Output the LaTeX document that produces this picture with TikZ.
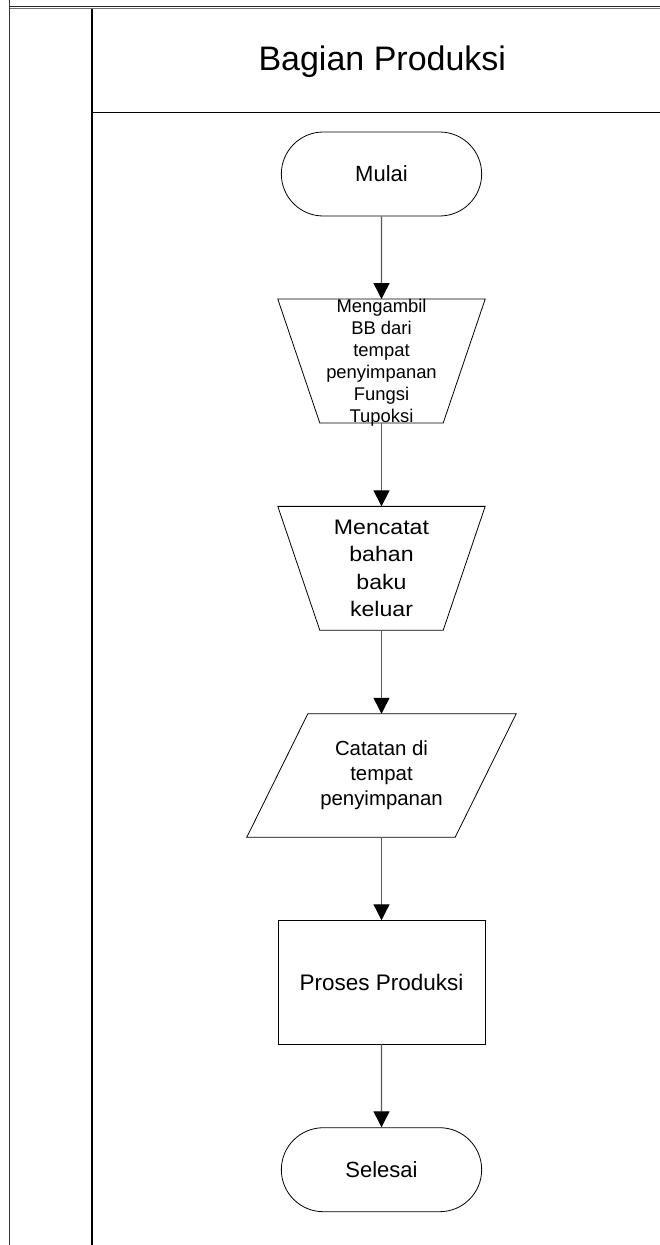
\documentclass[tikz,border=0pt]{standalone}
\usepackage{fontspec}
\setmainfont{Liberation Sans}
\newfontfamily\agaklebar{Liberation Sans}[FakeStretch=1.1]
\usetikzlibrary{shapes.misc,arrows.meta}

\begin{document}
\begin{tikzpicture}[x=1pt,y=-1pt]
    % Define style for flowchart shapes
    \tikzstyle{terminal} = [draw, rounded rectangle, line width=.8pt, minimum width=207pt, minimum height=84pt, font=\fontsize{22}{26}\selectfont]
    \tikzstyle{manual} = [rectangle, minimum width=207pt, minimum height=123.5pt, inner sep=0pt, align=center]
    \tikzstyle{dataio} = [rectangle, minimum width=269pt, minimum height=123pt, inner sep=0pt, align=center]
    \tikzstyle{kotak} = [draw, rectangle, line width=.8pt, minimum width=207pt, minimum height=123.3pt, font=\fontsize{22.5}{26}\selectfont]
    \tikzstyle{garis} = [line width=.8pt, line join=miter]
    \tikzstyle{panah} = [-{Triangle[width=16pt,length=16pt,black]}, draw=black!65, line width=1.2pt]

    \useasboundingbox (0,0) rectangle (660,1245);

    % Draw the swimlane
    \draw[black!80, line width=1.5pt] (9.7,0) -- (9.7,1245);
    \draw[black!85, line width=1.2pt] (9.7,6.5) -- (660,6.5);
    \draw[black!55, line width=1.2pt] (9.7,8.7) -- (660,8.7);
    \draw[black, line width=1.3pt] (92,8.7) -- (92,1245);
    \draw[black, line width=1.3pt] (92,112.3) -- (660,112.3);

    \node(judul) at (382.3,62) {\fontsize{34}{40}\selectfont Bagian Produksi};

    % Draw the flow
    \node(mulai)[terminal] at (381.5,174) {Mulai};
    \node(ambil)[manual, font=\fontsize{18.4}{22}\selectfont] at (381.5,361)
      {\smash{\raisebox{-6pt}{\begin{tabular}{@{}c@{}}Mengambil\\BB dari\\tempat\\penyimpanan\\Fungsi\\Tupoksi\end{tabular}}}};
    \node(catat)[manual, font=\agaklebar\fontsize{21}{27.5}\selectfont] at (381.5,568.3) {Mencatat\\bahan\\baku\\keluar};
    \node(catatan)[dataio, font=\fontsize{20.4}{25}\selectfont] at (381.5,775.5) {Catatan di\\tempat\\penyimpanan};
    \node(proses)[kotak] at (381.5,982.3) {Proses Produksi};
    \node(selesai)[terminal] at (381.5,1169.7) {Selesai};

    % Outline of trapezoid and parallelogram
    \draw[garis] (ambil.north west) -- (ambil.north east) -- ([xshift=-42pt]ambil.south east) -- ([xshift=42pt]ambil.south west) -- cycle;
    \draw[garis] (catat.north west) -- (catat.north east) -- ([xshift=-42pt]catat.south east) -- ([xshift=42pt]catat.south west) -- cycle;
    \draw[garis] ([xshift=61pt]catatan.north west) -- (catatan.north east) -- ([xshift=-61pt]catatan.south east) -- (catatan.south west) -- cycle;

    \draw[panah] (mulai) -- (ambil);
    \draw[panah] (ambil) -- (catat);
    \draw[panah] (catat) -- (catatan);
    \draw[panah] (catatan) -- (proses);
    \draw[panah] (proses) -- (selesai);
\end{tikzpicture}
\end{document}
